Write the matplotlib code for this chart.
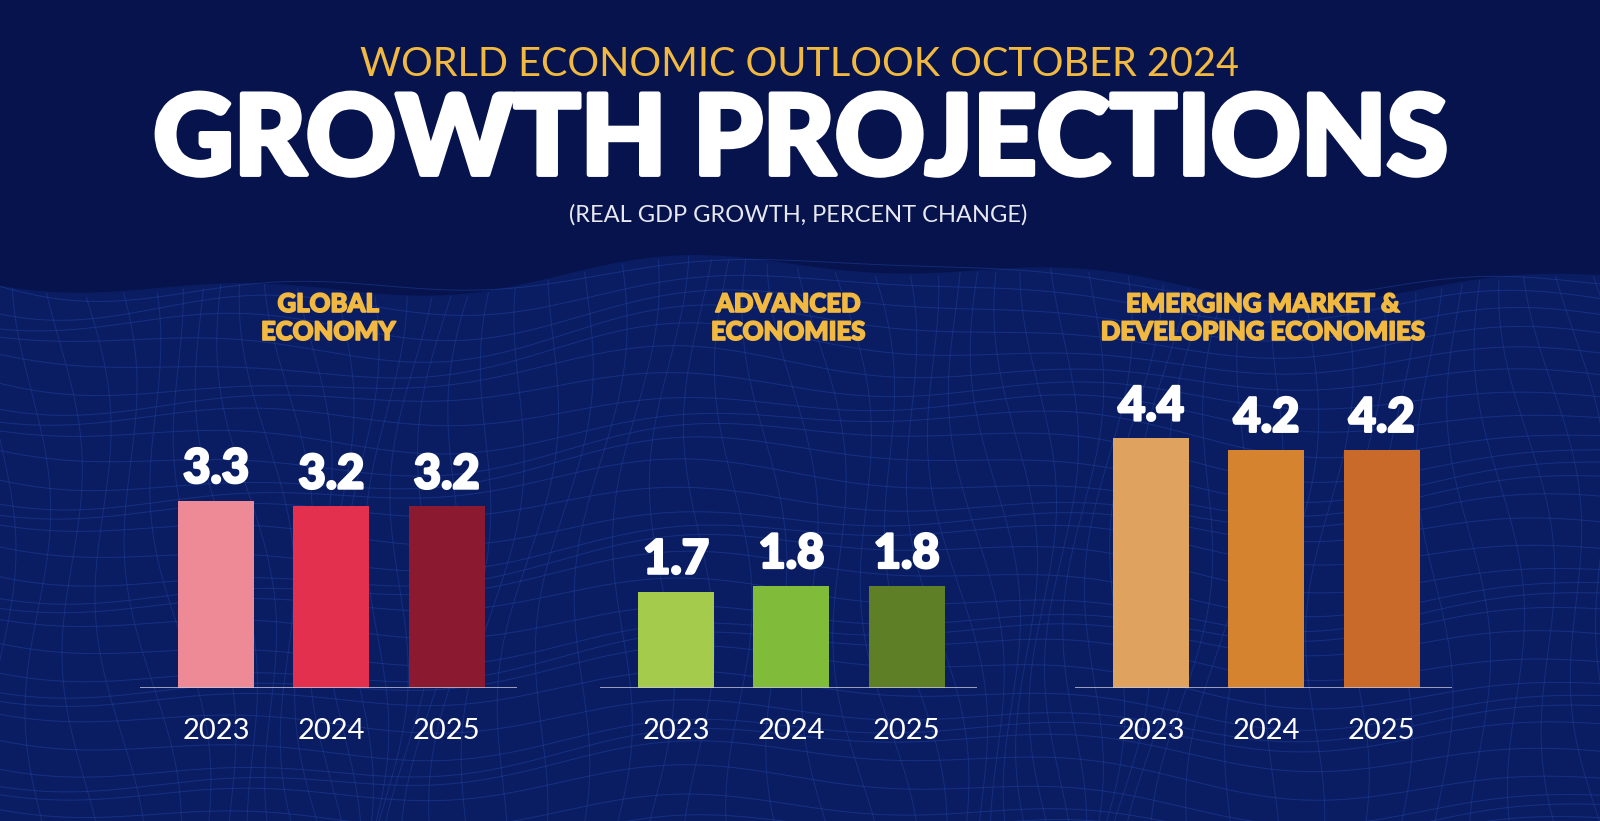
import numpy as np
import matplotlib.pyplot as plt
import matplotlib.patheffects as pe

years = ["2023", "2024", "2025"]
panel_titles = ["GLOBAL\nECONOMY", "ADVANCED\nECONOMIES", "EMERGING MARKET &\nDEVELOPING ECONOMIES"]
global_growth = [3.3, 3.2, 3.2]
advanced_growth = [1.7, 1.8, 1.8]
emerging_growth = [4.4, 4.2, 4.2]
values = [global_growth, advanced_growth, emerging_growth]
colors = [["#EE8A95", "#E3304E", "#8B1A30"],
          ["#A4CB4C", "#80BB3A", "#5E7F26"],
          ["#E0A25F", "#D5832E", "#C96A2A"]]

W, H = 1600, 821
bg_top = "#06134D"
gold = "#F2B941"
family = ["Lato", "DejaVu Sans"]


def thick(w, c):
    # fake a heavier weight by stroking the glyph outline
    return [pe.withStroke(linewidth=w, foreground=c)]


fig = plt.figure(figsize=(W / 100, H / 100), dpi=100, facecolor=bg_top)

# background: dark navy with a blue wire mesh in the lower part
bg = fig.add_axes([0, 0, 1, 1], zorder=-5)
bg.set_xlim(0, W)
bg.set_ylim(H, 0)
bg.axis("off")
bg.set_facecolor(bg_top)
xs = np.linspace(0, W, 400)
horizon = 278 + 16 * np.sin(xs / 170) + 10 * np.sin(xs / 67 + 1.0)
bg.fill_between(xs, horizon, H, color="#0A1D63", zorder=0)
for k in range(30):
    base = horizon + k * 19 + 9 * np.sin(xs / (80 + 9 * k) + k * 1.3)
    bg.plot(xs, base, color="#2448A8", lw=0.7, alpha=0.45, zorder=1)
ys = np.linspace(0, H, 200)
for k in range(-4, 62):
    x0 = k * 28 + 16 * np.sin(ys / 70 + k * 0.7) + (ys - 280) * 0.12 * np.sin(k / 4)
    top = np.interp(x0, xs, horizon)
    yy = np.where(ys >= top, ys, np.nan)
    bg.plot(x0, yy, color="#2448A8", lw=0.7, alpha=0.4, zorder=1)

# titles
fig.text(800 / W, 1 - 64 / H, "WORLD ECONOMIC OUTLOOK OCTOBER 2024", color=gold,
         fontsize=28.5, family=family, ha="center", va="center")
t = fig.text(801 / W, 1 - 142 / H, "GROWTH PROJECTIONS", color="white",
             fontsize=80, fontweight="black", family=family, ha="center", va="center")
t.set_path_effects(thick(3.5, "white"))
fig.text(798 / W, 1 - 215 / H, "(REAL GDP GROWTH, PERCENT CHANGE)", color="#E8E8F0",
         fontsize=17, family=family, ha="center", va="center")

lefts = [140, 600, 1075]
ax_w = 377
base_y = 688
top_y = 288
for p in range(3):
    ax = fig.add_axes([lefts[p] / W, 1 - base_y / H, ax_w / W, (base_y - top_y) / H])
    ax.patch.set_alpha(0)
    x = np.arange(len(years))
    ax.bar(x, values[p], width=0.66, color=colors[p], zorder=2)
    ax.set_xlim(-0.66, 2.61)
    ax.set_ylim(0, 7.05)
    ax.axis("off")
    ax.axhline(0, color="#C8C8E0", lw=1.8, zorder=3)
    for i, v in enumerate(values[p]):
        a = ax.annotate(f"{v:.1f}", xy=(i, v), xytext=(0, 18), textcoords="offset pixels",
                        ha="center", va="baseline", color="white", fontsize=34,
                        fontweight="black", family=family)
        a.set_path_effects(thick(1.8, "white"))
        ax.annotate(years[i], xy=(i, 0), xytext=(0, -43), textcoords="offset pixels",
                    ha="center", va="center", color="white", fontsize=21, family=family)
    pt = fig.text((lefts[p] + ax_w / 2) / W, 1 - 318 / H, panel_titles[p], color=gold,
                  fontsize=18.5, fontweight="black", family=family,
                  ha="center", va="center", linespacing=1.2)
    pt.set_path_effects(thick(1.2, gold))

fig.savefig("out.png", dpi=100, facecolor=bg_top)
